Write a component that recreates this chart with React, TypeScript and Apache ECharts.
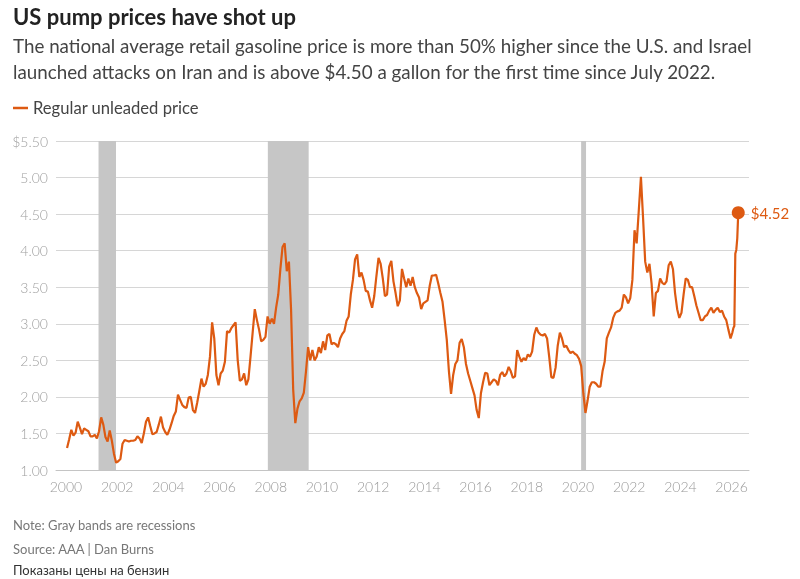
import React, { useEffect, useRef } from "react";
import * as echarts from "echarts";

// Monthly average regular unleaded price, US dollars per gallon
const p2000 = [1.30, 1.42, 1.55, 1.47, 1.51, 1.66, 1.58, 1.49, 1.57, 1.55, 1.53, 1.46];
const p2001 = [1.46, 1.48, 1.43, 1.53, 1.72, 1.62, 1.45, 1.39, 1.54, 1.40, 1.22, 1.10];
const p2002 = [1.12, 1.15, 1.36, 1.41, 1.40, 1.39, 1.40, 1.40, 1.41, 1.46, 1.43, 1.37];
const p2003 = [1.50, 1.66, 1.72, 1.60, 1.49, 1.50, 1.52, 1.62, 1.73, 1.58, 1.52, 1.48];
const p2004 = [1.55, 1.64, 1.74, 1.80, 2.03, 1.96, 1.89, 1.86, 1.85, 1.99, 2.00, 1.82];
const p2005 = [1.78, 1.92, 2.08, 2.25, 2.14, 2.18, 2.30, 2.55, 3.02, 2.80, 2.30, 2.16];
const p2006 = [2.32, 2.36, 2.48, 2.90, 2.88, 2.94, 2.98, 3.02, 2.50, 2.22, 2.24, 2.32];
const p2007 = [2.16, 2.24, 2.55, 2.88, 3.20, 3.05, 2.92, 2.76, 2.78, 2.82, 3.10, 3.00];
const p2008 = [3.07, 3.00, 3.22, 3.40, 3.75, 4.05, 4.10, 3.72, 3.85, 3.20, 2.10, 1.64];
const p2009 = [1.84, 1.94, 1.98, 2.06, 2.35, 2.68, 2.50, 2.64, 2.50, 2.55, 2.68, 2.60];
const p2010 = [2.76, 2.64, 2.84, 2.86, 2.72, 2.74, 2.72, 2.68, 2.80, 2.86, 2.90, 3.04];
const p2011 = [3.10, 3.40, 3.60, 3.88, 3.95, 3.64, 3.70, 3.60, 3.45, 3.44, 3.32, 3.22];
const p2012 = [3.38, 3.65, 3.90, 3.82, 3.62, 3.38, 3.40, 3.78, 3.86, 3.58, 3.42, 3.24];
const p2013 = [3.32, 3.75, 3.62, 3.50, 3.62, 3.52, 3.64, 3.50, 3.42, 3.36, 3.20, 3.28];
const p2014 = [3.30, 3.32, 3.52, 3.66, 3.66, 3.67, 3.55, 3.42, 3.30, 3.05, 2.78, 2.35];
const p2015 = [2.04, 2.30, 2.45, 2.50, 2.74, 2.79, 2.68, 2.45, 2.32, 2.22, 2.12, 2.02];
const p2016 = [1.82, 1.71, 2.05, 2.20, 2.33, 2.32, 2.16, 2.20, 2.24, 2.22, 2.16, 2.30];
const p2017 = [2.34, 2.28, 2.32, 2.41, 2.35, 2.26, 2.28, 2.64, 2.55, 2.48, 2.53, 2.50];
const p2018 = [2.58, 2.55, 2.62, 2.85, 2.95, 2.88, 2.85, 2.84, 2.86, 2.80, 2.55, 2.27];
const p2019 = [2.26, 2.40, 2.70, 2.88, 2.80, 2.68, 2.70, 2.64, 2.60, 2.62, 2.59, 2.57];
const p2020 = [2.52, 2.42, 2.05, 1.78, 1.95, 2.14, 2.20, 2.20, 2.18, 2.14, 2.14, 2.35];
const p2021 = [2.48, 2.80, 2.88, 2.95, 3.08, 3.15, 3.17, 3.18, 3.22, 3.40, 3.36, 3.28];
const p2022 = [3.35, 3.60, 4.28, 4.10, 4.55, 5.01, 4.45, 3.85, 3.70, 3.82, 3.55, 3.10];
const p2023 = [3.42, 3.45, 3.62, 3.56, 3.54, 3.58, 3.80, 3.85, 3.75, 3.42, 3.20, 3.08];
const p2024 = [3.15, 3.40, 3.62, 3.60, 3.50, 3.50, 3.38, 3.25, 3.15, 3.05, 3.05, 3.10];
const p2025 = [3.12, 3.18, 3.22, 3.15, 3.19, 3.22, 3.16, 3.18, 3.10, 3.05, 2.92, 2.80];

const firstYear = 2000;
const monthlyByYear = [
  p2000, p2001, p2002, p2003, p2004, p2005, p2006, p2007, p2008, p2009,
  p2010, p2011, p2012, p2013, p2014, p2015, p2016, p2017, p2018, p2019,
  p2020, p2021, p2022, p2023, p2024, p2025,
];

// Latest readings in 2026
const recentDates = ["2026-01-12", "2026-01-26", "2026-02-09", "2026-02-23", "2026-03-09", "2026-03-23", "2026-04-06"];
const recentPrices = [2.88, 2.94, 2.97, 3.96, 4.01, 4.17, 4.52];

// Recession periods shaded in gray (start, end)
const recessions = [
  ["2001-04-10", "2001-12-15"],
  ["2007-11-20", "2009-06-25"],
  ["2020-02-15", "2020-04-25"],
];

const yearTicks = [2000, 2002, 2004, 2006, 2008, 2010, 2012, 2014, 2016, 2018, 2020, 2022, 2024, 2026];

const ORANGE = "#dd5a12";
const FONT = "Lato, 'Noto Sans', sans-serif";

function toYear(d: string): number {
  const t = Date.parse(d + "T00:00:00Z");
  const y = new Date(t).getUTCFullYear();
  const start = Date.UTC(y, 0, 1);
  const end = Date.UTC(y + 1, 0, 1);
  return y + (t - start) / (end - start);
}

export default function App() {
  const ref = useRef<HTMLDivElement>(null);

  useEffect(() => {
    if (!ref.current) return;
    const chart = echarts.init(ref.current, undefined, { renderer: "svg" });

    const line: [number, number][] = [];
    monthlyByYear.forEach((vals, i) => {
      vals.forEach((v, m) => line.push([firstYear + i + (m + 0.5) / 12, v]));
    });
    recentDates.forEach((d, i) => line.push([toYear(d), recentPrices[i]]));
    const last = line[line.length - 1];

    chart.setOption({
      animation: false,
      textStyle: { fontFamily: FONT },
      title: [
        {
          text: "US pump prices have shot up",
          left: 13,
          top: 3,
          padding: 0,
          textStyle: { fontFamily: FONT, fontSize: 22, fontWeight: 700, color: "#222222", lineHeight: 26 },
        },
        {
          text:
            "The national average retail gasoline price is more than 50% higher since the U.S. and Israel\nlaunched attacks on Iran and is above $4.50 a gallon for the first time since July 2022.",
          left: 13,
          top: 32,
          padding: 0,
          textStyle: { fontFamily: FONT, fontSize: 18.8, fontWeight: 400, color: "#444444", lineHeight: 26 },
        },
        {
          text: "Note: Gray bands are recessions",
          left: 13,
          top: 517,
          padding: 0,
          textStyle: { fontFamily: FONT, fontSize: 13, fontWeight: 400, color: "#777777", lineHeight: 16 },
        },
        {
          text: "Source: AAA | Dan Burns",
          left: 13,
          top: 541,
          padding: 0,
          textStyle: { fontFamily: FONT, fontSize: 13, fontWeight: 400, color: "#777777", lineHeight: 16 },
        },
        {
          text: "Показаны цены на бензин",
          left: 13,
          top: 562,
          padding: 0,
          textStyle: { fontFamily: FONT, fontSize: 13, fontWeight: 400, color: "#333333", lineHeight: 16 },
        },
      ],
      legend: {
        data: ["Regular unleaded price"],
        left: 13,
        top: 99,
        padding: 0,
        icon: "rect",
        itemWidth: 15,
        itemHeight: 2.5,
        itemGap: 5,
        textStyle: { fontFamily: FONT, fontSize: 16.6, color: "#444444", lineHeight: 18 },
      },
      grid: { left: 56, right: 51, top: 141, bottom: 109, containLabel: false },
      xAxis: {
        type: "value",
        min: 1999.61,
        max: 2026.68,
        splitLine: { show: false },
        axisTick: { show: false },
        axisLine: { show: true, lineStyle: { color: "#c4c4c4", width: 1 } },
        axisLabel: {
          customValues: yearTicks,
          formatter: (v: number) => String(Math.round(v)),
          color: "#999999",
          fontFamily: FONT,
          fontSize: 14,
          fontWeight: 300,
          margin: 9,
        },
      },
      yAxis: {
        type: "value",
        min: 1,
        max: 5.5,
        interval: 0.5,
        axisLine: { show: false },
        axisTick: { show: false },
        splitLine: { lineStyle: { color: "#d6d6d6", width: 1 } },
        axisLabel: {
          formatter: (v: number) => (v === 5.5 ? "$" : "") + v.toFixed(2),
          color: "#a0a0a0",
          fontFamily: FONT,
          fontSize: 14,
          fontWeight: 300,
          margin: 8,
        },
      },
      series: [
        {
          name: "Regular unleaded price",
          type: "line",
          data: line,
          showSymbol: false,
          symbol: "none",
          z: 3,
          lineStyle: { color: ORANGE, width: 2.2 },
          itemStyle: { color: ORANGE },
          markArea: {
            silent: true,
            itemStyle: { color: "#c6c6c6", opacity: 1 },
            data: recessions.map(([a, b]) => [{ xAxis: toYear(a) }, { xAxis: toYear(b) }]),
          },
        },
        {
          name: "latest",
          type: "scatter",
          data: [last],
          symbolSize: 13,
          z: 5,
          itemStyle: { color: ORANGE, opacity: 1 },
          label: {
            show: true,
            position: "right",
            distance: 6,
            formatter: (p: any) => "$" + Number(p.value[1]).toFixed(2),
            color: ORANGE,
            fontFamily: FONT,
            fontSize: 15,
          },
        },
      ],
    });

    return () => chart.dispose();
  }, []);

  return <div ref={ref} style={{ position: "fixed", left: 0, top: 0, width: 800, height: 579 }} />;
}
